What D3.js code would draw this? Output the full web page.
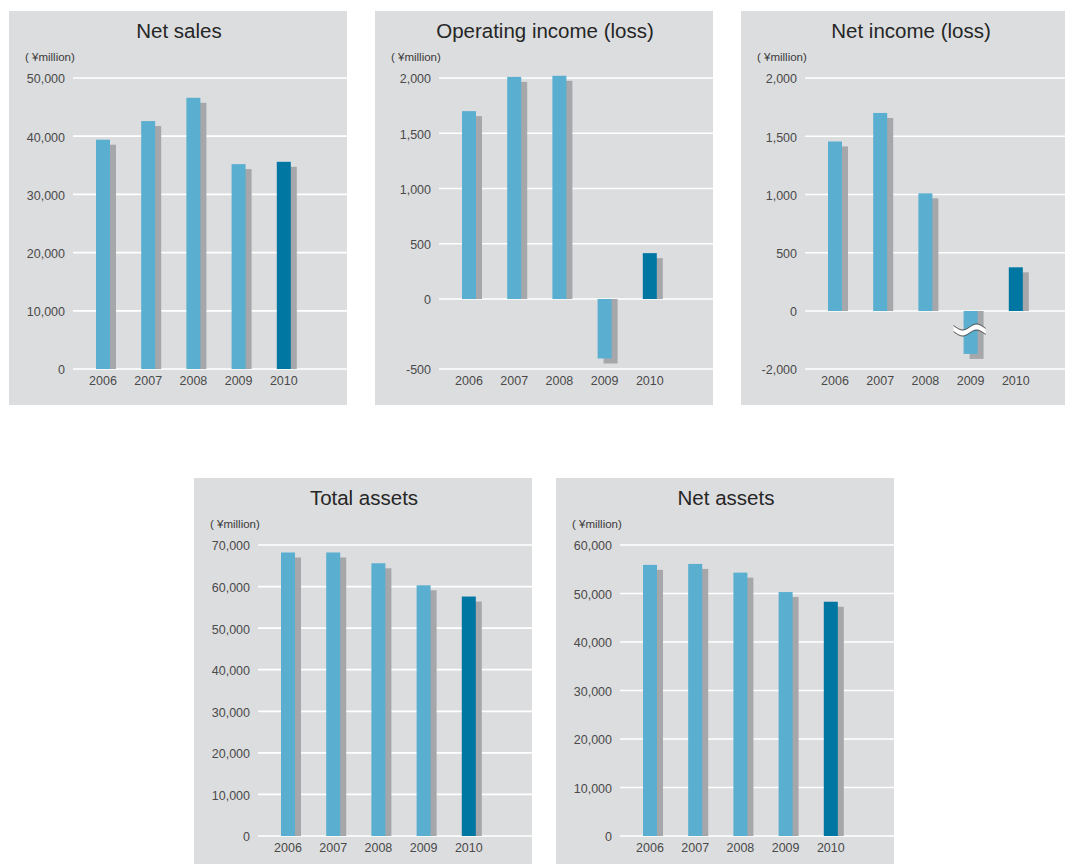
<!DOCTYPE html>
<html lang="en">
<head>
<meta charset="UTF-8">
<title>Financial highlights</title>
<style>
  body { margin: 0; background: #fff; }
  text { font-family: "Liberation Sans", Arial, Helvetica, sans-serif; }
</style>
</head>
<body>
<svg id="chart"></svg>
<script src="https://cdn.jsdelivr.net/npm/d3@7"></script>
<script>
// data (¥ million)
const years = ["2006", "2007", "2008", "2009", "2010"];
const netSales = [39400, 42600, 46600, 35200, 35600];
const operatingIncome = [1700, 2010, 2020, -425, 415];
const netIncome = [1455, 1700, 1010, -1480, 375];
const totalAssets = [68200, 68200, 65600, 60300, 57600];
const netAssets = [55900, 56100, 54300, 50300, 48300];

const salesTicks = [0, 10000, 20000, 30000, 40000, 50000];
const opTicks = [-500, 0, 500, 1000, 1500, 2000];
const netIncomeTicks = [-2000, 0, 500, 1000, 1500, 2000];
const totalAssetsTicks = [0, 10000, 20000, 30000, 40000, 50000, 60000, 70000];
const netAssetsTicks = [0, 10000, 20000, 30000, 40000, 50000, 60000];

const W = 1065, H = 864;
const panelW = 338, panelH = 394;
const plotTop = 67, plotBottom = 358, gridLeft = 64;

const svg = d3.select("#chart").attr("width", W).attr("height", H);
svg.append("rect").attr("width", W).attr("height", H).attr("fill", "#fff");

const panels = [
  { title: "Net sales", values: netSales, ticks: salesTicks, x: 9, y: 11,
    domain: [0, 50000], range: [plotBottom, plotTop] },
  { title: "Operating income (loss)", values: operatingIncome, ticks: opTicks, x: 375, y: 11,
    domain: [-500, 0, 2000], range: [plotBottom, 288, plotTop] },
  { title: "Net income (loss)", values: netIncome, ticks: netIncomeTicks, x: 741, y: 11,
    domain: [-2000, 0, 2000], range: [plotBottom, 300, plotTop], brk: true },
  { title: "Total assets", values: totalAssets, ticks: totalAssetsTicks, x: 194, y: 478,
    domain: [0, 70000], range: [plotBottom, plotTop] },
  { title: "Net assets", values: netAssets, ticks: netAssetsTicks, x: 556, y: 478,
    domain: [0, 60000], range: [plotBottom, plotTop] }
];

const fmt = v => d3.format(",")(v).replace("\u2212", "-");
const barW = 14, shX = 6, shY = 5;

panels.forEach(p => drawPanel(p));

function drawPanel(p) {
  const g = svg.append("g").attr("transform", `translate(${p.x},${p.y})`);
  g.append("rect").attr("width", panelW).attr("height", panelH).attr("fill", "#dcdddf");

  g.append("text")
    .attr("x", panelW / 2 + 1).attr("y", 27)
    .attr("text-anchor", "middle")
    .attr("font-size", 20.5).attr("fill", "#262626")
    .text(p.title);

  g.append("text")
    .attr("x", 16).attr("y", 50)
    .attr("font-size", 11.5).attr("fill", "#3a3a3a")
    .text("( ¥million)");

  const y = d3.scaleLinear().domain(p.domain).range(p.range);
  const x = d3.scaleBand().domain(years).range([71.4, 71.4 + 45.2 * 5]);

  // gridlines + tick labels
  g.selectAll(".grid").data(p.ticks).enter().append("line")
    .attr("x1", gridLeft).attr("x2", panelW)
    .attr("y1", d => y(d)).attr("y2", d => y(d))
    .attr("stroke", "#fff").attr("stroke-width", 1.7);
  g.selectAll(".tick").data(p.ticks).enter().append("text")
    .attr("x", 56).attr("y", d => y(d) + 1)
    .attr("dy", "0.35em")
    .attr("text-anchor", "end")
    .attr("font-size", 12.5).attr("fill", "#4a4a4a")
    .text(d => fmt(d));

  const data = years.map((yr, i) => ({ year: yr, value: p.values[i], last: i === years.length - 1 }));
  const y0 = y(0);
  const cx = d => x(d.year) + x.bandwidth() / 2;

  // shadow bars
  g.selectAll(".shadow").data(data).enter().append("rect")
    .attr("x", d => cx(d) - barW / 2 + shX)
    .attr("width", barW)
    .attr("y", d => d.value >= 0 ? y(d.value) + shY : y0)
    .attr("height", d => d.value >= 0 ? y0 - y(d.value) - shY : y(d.value) - y0 + shY)
    .attr("fill", "#a6a7aa");

  // front bars
  g.selectAll(".bar").data(data).enter().append("rect")
    .attr("x", d => cx(d) - barW / 2)
    .attr("width", barW)
    .attr("y", d => Math.min(y(d.value), y0))
    .attr("height", d => Math.abs(y0 - y(d.value)))
    .attr("fill", d => d.last ? "#0076a3" : "#5aaecf");

  // year labels
  g.selectAll(".year").data(data).enter().append("text")
    .attr("x", d => cx(d)).attr("y", 373.5)
    .attr("text-anchor", "middle")
    .attr("font-size", 12.5).attr("fill", "#4a4a4a")
    .text(d => d.year);

  // break mark on the negative bar
  if (p.brk) {
    const neg = data.filter(d => d.value < 0)[0];
    const bx = cx(neg) - 1, by = y0 + 19;
    const pts = d3.range(0, 33).map(i => [i - 16, -3 * Math.sin(Math.PI * (i - 16) / 14)]);
    const wave = d3.line().curve(d3.curveBasis);
    const band = pts.map(q => [q[0], q[1] - 3]).concat(pts.slice().reverse().map(q => [q[0], q[1] + 3]));
    const bg = g.append("g").attr("transform", `translate(${bx},${by})`);
    bg.append("path").attr("d", wave(band) + "Z").attr("fill", "#fff");
    bg.append("path").attr("d", wave(pts.map(q => [q[0], q[1] - 3]))).attr("fill", "none")
      .attr("stroke", "#3a3a3a").attr("stroke-width", 1);
    bg.append("path").attr("d", wave(pts.map(q => [q[0], q[1] + 3]))).attr("fill", "none")
      .attr("stroke", "#3a3a3a").attr("stroke-width", 1);
  }
}
</script>
</body>
</html>
